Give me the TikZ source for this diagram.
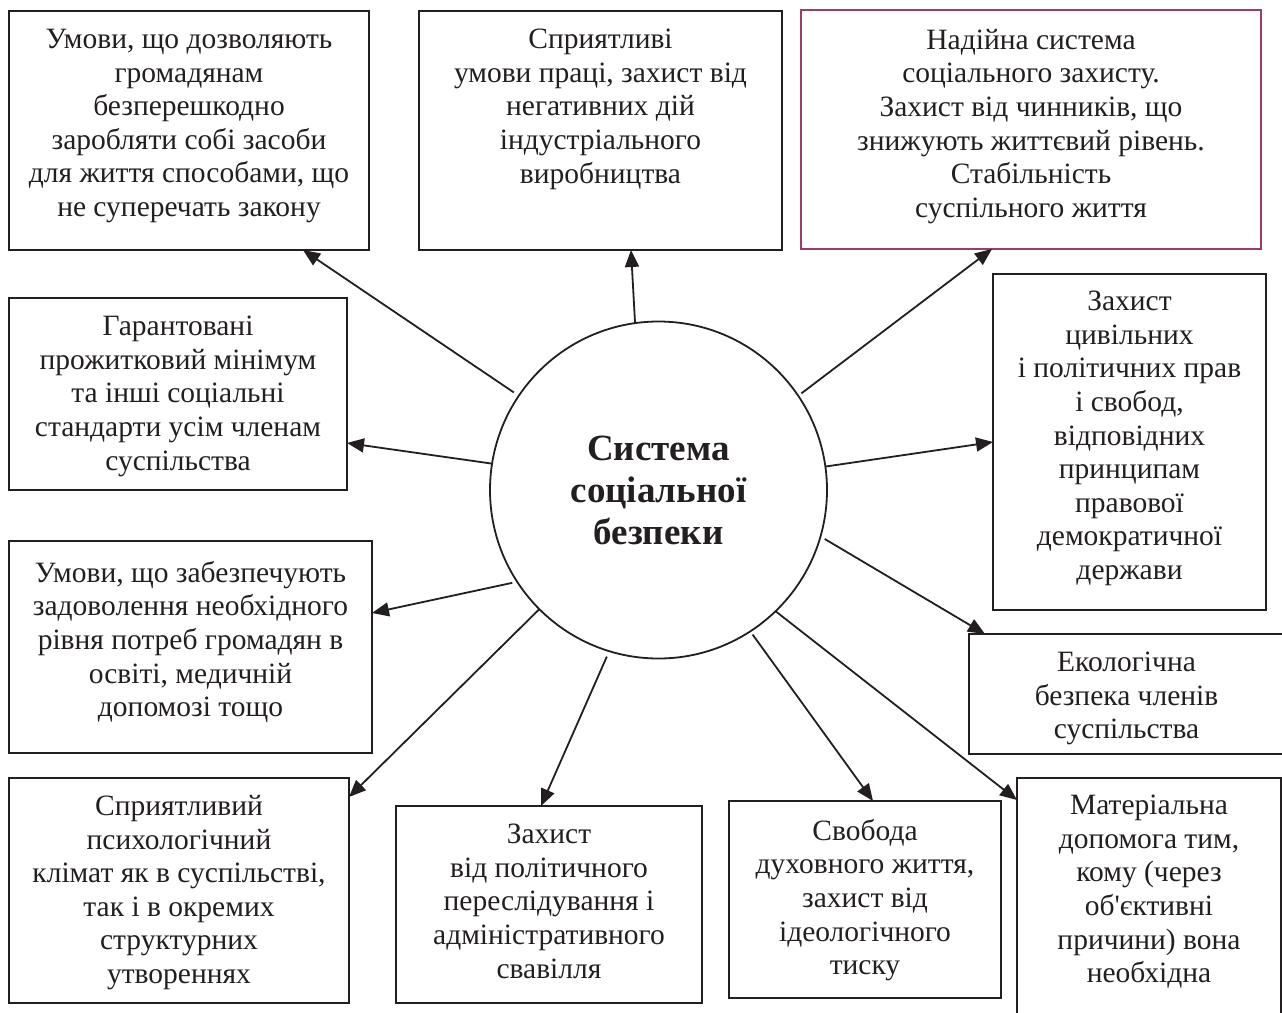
\documentclass[tikz,border=0pt]{standalone}
\usepackage{fontspec}
\setmainfont{Liberation Serif}
\usetikzlibrary{arrows.meta,calc}
\definecolor{plum}{RGB}{158,58,108}
\definecolor{ink}{RGB}{35,31,32}
\begin{document}
\begin{tikzpicture}[x=1pt,y=-1pt,
  box/.style={draw=ink, line width=1.8pt, rectangle, inner sep=0pt, outer sep=0pt},
  txt/.style={align=center, inner sep=0pt, anchor=north, text=ink,
    font=\fontsize{29.5}{33.6}\selectfont},
  arr/.style={draw=ink, line width=1.8pt, -{Triangle[length=17pt,width=14pt]}}]
\clip (0,0) rectangle (1282,1012);
\useasboundingbox (0,0) rectangle (1282,1012);
\fill[white] (0,0) rectangle (1282,1012);

% boxes
\node[box, minimum width=360pt, minimum height=239pt] (b1) at (189,130.5) {};
\node[box, minimum width=363pt, minimum height=239pt] (b2) at (600.5,130.5) {};
\node[box, draw=plum, minimum width=460pt, minimum height=239pt] (b3) at (1031,129.5) {};
\node[box, minimum width=338pt, minimum height=192pt] (b4) at (178,394) {};
\node[box, minimum width=273pt, minimum height=336pt] (b5) at (1129.5,442) {};
\node[box, minimum width=363pt, minimum height=212pt] (b6) at (190.5,647) {};
\node[box, minimum width=315pt, minimum height=120pt] (b7) at (1126.5,694) {};
\node[box, minimum width=340pt, minimum height=225pt] (b8) at (179,890.5) {};
\node[box, minimum width=306pt, minimum height=197pt] (b9) at (549,904.5) {};
\node[box, minimum width=272pt, minimum height=197pt] (b10) at (865,899.5) {};
\node[box, minimum width=264pt, minimum height=242pt] (b11) at (1149,899) {};

% texts
\node[txt] (t1) at ([yshift=-18pt]b1.north) {Умови, що дозволяють\\громадянам\\безперешкодно\\заробляти собі засоби\\для життя способами, що\\не суперечать закону};
\node[txt] (t2) at ([yshift=-18pt]b2.north) {Сприятливі\\умови праці, захист від\\негативних дій\\індустріального\\виробництва};
\node[txt] (t3) at ([yshift=-19pt]b3.north) {Надійна система\\соціального захисту.\\Захист від чинників, що\\знижують життєвий рівень.\\Стабільність\\суспільного життя};
\node[txt] (t4) at ([yshift=-18pt]b4.north) {Гарантовані\\прожитковий мінімум\\та інші соціальні\\стандарти усім членам\\суспільства};
\node[txt] (t5) at ([yshift=-17pt]b5.north) {Захист\\цивільних\\і політичних прав\\і свобод,\\відповідних\\принципам\\правової\\демократичної\\держави};
\node[txt] (t6) at ([yshift=-20pt]b6.north) {Умови, що забезпечують\\задоволення необхідного\\рівня потреб громадян в\\освіті, медичній\\допомозі тощо};
\node[txt] (t7) at ([yshift=-18pt]b7.north) {Екологічна\\безпека членів\\суспільства};
\node[txt] (t8) at ([yshift=-17pt]b8.north) {Сприятливий\\психологічний\\клімат як в суспільстві,\\так і в окремих\\структурних\\утвореннях};
\node[txt] (t9) at ([yshift=-18pt]b9.north) {Захист\\від політичного\\переслідування і\\адміністративного\\свавілля};
\node[txt] (t10) at ([yshift=-18pt]b10.north) {Свобода\\духовного життя,\\захист від\\ідеологічного\\тиску};
\node[txt] (t11) at ([yshift=-17pt]b11.north) {Матеріальна\\допомога тим,\\кому (через\\об\textquotesingle єктивні\\причини) вона\\необхідна};

% centre
\node[circle, draw=ink, line width=1.8pt, minimum size=337pt, inner sep=0pt, outer sep=0pt,
  align=center, text=ink, font=\bfseries\fontsize{37}{42}\selectfont] (c) at (658.5,490)
  {Система\\соціальної\\безпеки};

% arrows
\draw[arr, shorten <=6pt] (c.146) -- (303,0 |- b1.south);
\draw[arr] (c.98.6) -- (631,0 |- b2.south);
\draw[arr, shorten <=4pt] (c.34.1) -- (992,0 |- b3.south);
\draw[arr] (c.171.9) -- (b4.east |- 0,443);
\draw[arr] (c.8.2) -- (b5.west |- 0,442);
\draw[arr, shorten <=5pt] (c.213.4) -- (b6.east |- 0,613);
\draw[arr] (c.225.1) -- (b8.east |- 0,797);
\draw[arr, shorten <=6pt] (c.253.9) -- (541,0 |- b9.north);
\draw[arr, shorten <=4pt] (c.303.6) -- (873,0 |- b10.north);
\draw[arr] (c.314.9) -- (b11.west |- 0,800);
\draw[arr, shorten <=5pt] (c.344) -- (985,0 |- b7.north);
\end{tikzpicture}
\end{document}
